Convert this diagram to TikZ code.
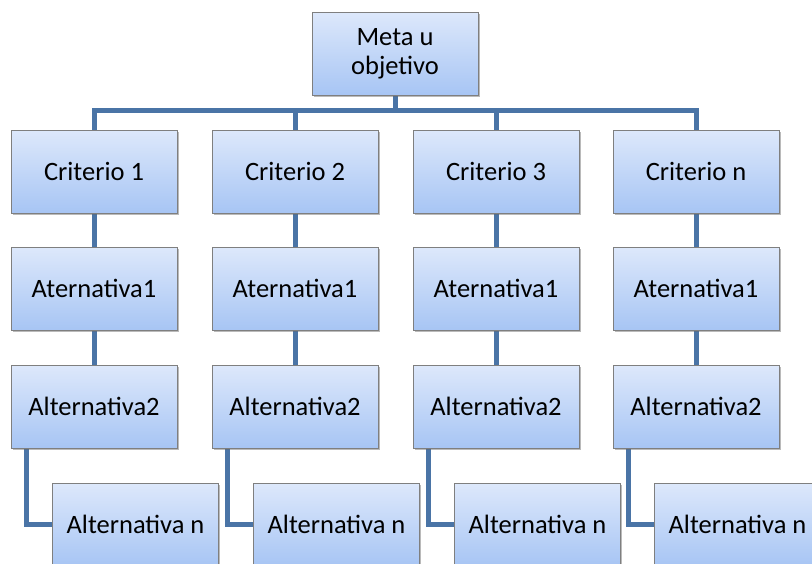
\documentclass[tikz,border=0pt]{standalone}
\usepackage{fontspec}
\setmainfont{Carlito}
\usetikzlibrary{shadows,backgrounds}
\definecolor{linkblue}{HTML}{4A74A6}
\definecolor{boxtop}{HTML}{DDE8FB}
\definecolor{boxbot}{HTML}{A7C5F4}
\definecolor{boxedge}{HTML}{7F7F7F}
\tikzset{
  box/.style={draw=boxedge, line width=1pt, top color=boxtop, bottom color=boxbot,
    minimum width=166pt, minimum height=83pt, inner sep=0pt, align=center,
    font=\fontsize{26.5}{29}\selectfont,
    drop shadow={shadow xshift=1.5pt, shadow yshift=-1.5pt, opacity=0.45, fill=black!60}},
  link/.style={draw=linkblue, line width=5pt}
}
\begin{document}
\begin{tikzpicture}[x=1pt,y=-1pt]
\useasboundingbox (0,0) rectangle (812,563);
\clip (0,0) rectangle (812,563);
\node[box] (top) at (395,53.5) {Meta u\\objetivo};
\coordinate (bar) at (395,110);
\foreach \i/\cx/\lab in {1/94/Criterio 1,2/295/Criterio 2,3/496/Criterio 3,4/696/Criterio n}{
  \node[box] (c\i) at (\cx,171.5) {\lab};
  \node[box] (a\i) at (\cx,288.5) {Aternativa1};
  \node[box] (b\i) at (\cx,406.5) {Alternativa2};
  \node[box] (n\i) at (\cx+41.5,524.5) {Alternativa n};
}
\begin{scope}[on background layer]
  \draw[link] (top.south) -- (bar);
  \draw[link] (c1.north) |- (bar) -| (c4.north);
  \foreach \i in {1,2,3,4}{
    \draw[link] (c\i.north) |- (bar);
    \draw[link] (c\i.south) -- (a\i.north);
    \draw[link] (a\i.south) -- (b\i.north);
    \draw[link] ([xshift=16pt]b\i.south west) |- (n\i.west);
  }
\end{scope}
\end{tikzpicture}
\end{document}
